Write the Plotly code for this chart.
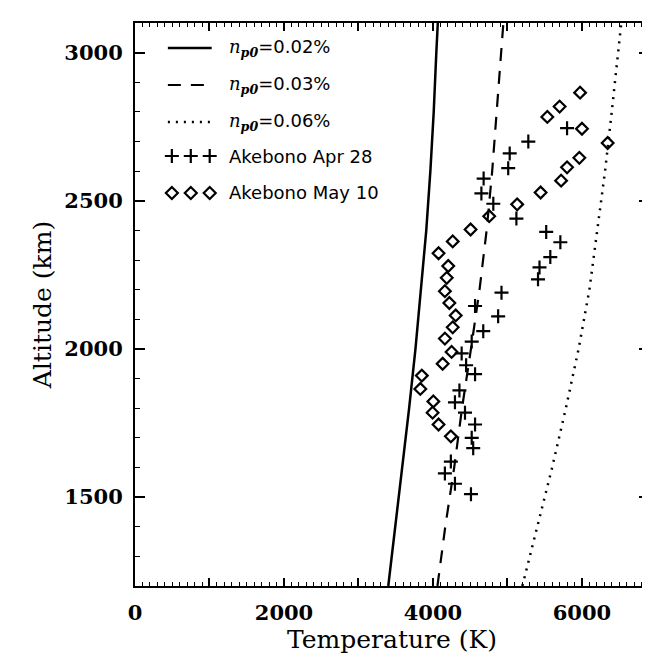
import plotly.graph_objects as go

# ── Data
model_alt = [1200, 1400, 1600, 1800, 2000, 2200, 2400, 2600, 2800, 3000, 3100]
np002_temp = [3400, 3495, 3590, 3680, 3765, 3840, 3910, 3965, 4010, 4045, 4065]
np003_temp = [4060, 4165, 4285, 4390, 4510, 4625, 4720, 4795, 4855, 4915, 4945]
np006_temp = [5200, 5405, 5600, 5784, 5955, 6100, 6210, 6310, 6400, 6485, 6528]

apr28_temp = [5280, 5030, 5010, 4680, 4650, 4810, 5120, 5800, 4920, 5520, 5710,
              5575, 5430, 5410, 4565, 4875, 4675, 4520, 4385, 4445, 4565, 4355,
              4295, 4430, 4565, 4520, 4540, 4240, 4160, 4295, 4510]
apr28_alt = [2700, 2660, 2610, 2575, 2525, 2490, 2440, 2745, 2190, 2395, 2360,
             2310, 2275, 2235, 2145, 2110, 2060, 2025, 1985, 1945, 1915, 1860,
             1820, 1785, 1745, 1700, 1665, 1620, 1580, 1545, 1510]

may10_temp = [5975, 5700, 5535, 6000, 6345, 5965, 5800, 5720, 5445, 5130, 4755,
              4505, 4265, 4075, 4205, 4185, 4160, 4220, 4305, 4265, 4160, 4250,
              4130, 3850, 3830, 4005, 3995, 4075, 4240]
may10_alt = [2865, 2818, 2783, 2743, 2695, 2645, 2613, 2568, 2528, 2488, 2448,
             2403, 2363, 2323, 2280, 2240, 2195, 2155, 2113, 2073, 2035, 1990,
             1950, 1910, 1865, 1823, 1785, 1745, 1705]

NP = ('<span style="font-family:DejaVu Serif"><i>n</i>'
      '<sub><b><i>p0</i></b></sub></span>')
legend_labels = [NP + '=0.02%', NP + '=0.03%', NP + '=0.06%',
                 'Akebono Apr 28', 'Akebono May 10']

# ── Style
BLACK = 'black'
TICK_FONT = dict(family='DejaVu Serif', size=21, color=BLACK, weight='bold')
TITLE_FONT = dict(family='DejaVu Serif', size=25, color=BLACK)
LEG_FONT = dict(family='DejaVu Sans', size=18, color=BLACK)
DASH = '13px,10px'
DOT = '2px,6px'

fig = go.Figure()
fig.add_trace(go.Scatter(x=np002_temp, y=model_alt, mode='lines',
                         line=dict(color=BLACK, width=2.5), showlegend=False))
fig.add_trace(go.Scatter(x=np003_temp, y=model_alt, mode='lines',
                         line=dict(color=BLACK, width=2.2, dash=DASH), showlegend=False))
fig.add_trace(go.Scatter(x=np006_temp, y=model_alt, mode='lines',
                         line=dict(color=BLACK, width=2.5, dash=DOT), showlegend=False))
fig.add_trace(go.Scatter(x=apr28_temp, y=apr28_alt, mode='markers',
                         marker=dict(symbol='cross-thin', size=10,
                                     line=dict(color=BLACK, width=2.2)),
                         showlegend=False))
fig.add_trace(go.Scatter(x=may10_temp, y=may10_alt, mode='markers',
                         marker=dict(symbol='diamond-open', size=9, color=BLACK,
                                     line=dict(color=BLACK, width=2.2)),
                         showlegend=False))

# ── Hand-drawn legend (top-left, inside the frame)
PLOT_L, PLOT_W, PLOT_B, PLOT_H = 127, 516, 578, 563
def px(x): return (x - PLOT_L) / PLOT_W
def py(y): return (PLOT_B - y) / PLOT_H

row_y = [40, 77, 114, 148, 185]
shapes = []
for yy, dash, w in zip(row_y[:3], ['solid', DASH, DOT], [2.5, 2.2, 2.5]):
    shapes.append(dict(type='line', xref='paper', yref='paper',
                       x0=px(160), x1=px(204), y0=py(yy), y1=py(yy),
                       line=dict(color=BLACK, width=w, dash=dash)))
for cx in [164, 183, 202]:
    shapes.append(dict(type='path', xref='paper', yref='paper',
                       xsizemode='pixel', ysizemode='pixel',
                       xanchor=px(cx), yanchor=py(row_y[3]),
                       path='M-7,0 L7,0 M0,-7 L0,7',
                       line=dict(color=BLACK, width=2.2)))
    shapes.append(dict(type='path', xref='paper', yref='paper',
                       xsizemode='pixel', ysizemode='pixel',
                       xanchor=px(cx), yanchor=py(row_y[4]),
                       path='M0,-6 L6,0 L0,6 L-6,0 Z',
                       line=dict(color=BLACK, width=2.2)))

annotations = []
for yy, label in zip(row_y, legend_labels):
    annotations.append(dict(xref='paper', yref='paper', x=px(219), y=py(yy),
                            text=label, showarrow=False, xanchor='left',
                            yanchor='middle', font=LEG_FONT))

fig.update_layout(
    width=650, height=654,
    margin=dict(l=127, r=7, t=15, b=76),
    paper_bgcolor='white', plot_bgcolor='white',
    shapes=shapes, annotations=annotations,
    xaxis=dict(range=[0, 6900], showgrid=False, zeroline=False,
               tickvals=[0, 1000, 2000, 3000, 4000, 5000, 6000],
               ticktext=['0', '', '2000', '', '4000', '', '6000'],
               ticks='inside', ticklen=8, tickwidth=1.5, tickcolor=BLACK,
               minor=dict(dtick=100, ticks='inside', ticklen=4, tickwidth=1.2, tickcolor=BLACK),
               showline=True, linecolor=BLACK, linewidth=2, mirror='allticks',
               tickfont=TICK_FONT, ticklabelstandoff=7,
               title=dict(text='Temperature (K)', font=TITLE_FONT, standoff=1)),
    yaxis=dict(range=[1200, 3100], showgrid=False, zeroline=False,
               tickvals=[1500, 2000, 2500, 3000],
               ticks='inside', ticklen=10, tickwidth=1.5, tickcolor=BLACK,
               minor=dict(dtick=100, ticks='inside', ticklen=5, tickwidth=1.2, tickcolor=BLACK),
               showline=True, linecolor=BLACK, linewidth=2, mirror='allticks',
               tickfont=TICK_FONT, ticklabelstandoff=6,
               title=dict(text='Altitude (km)', font=TITLE_FONT, standoff=6)),
)

fig.write_html("out.html")
